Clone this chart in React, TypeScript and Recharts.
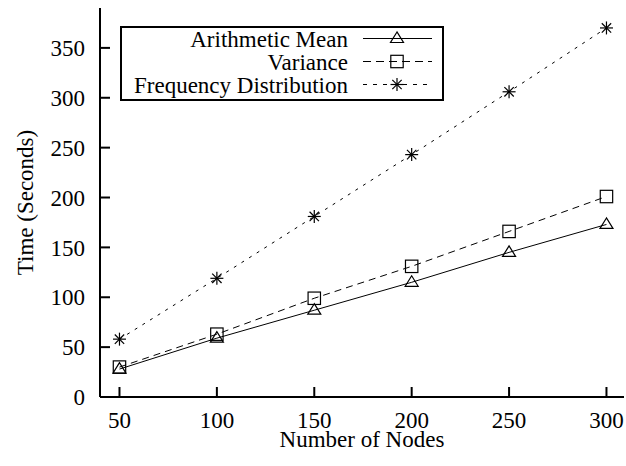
import React from 'react';
import { LineChart, Line, XAxis, YAxis, Legend, Label } from 'recharts';

const FONT = '"Liberation Serif", "Times New Roman", serif';

// Data
const nodes = [50, 100, 150, 200, 250, 300];
const arithmeticMean = [28, 59, 87, 115, 145, 173];
const varianceVals = [30, 63, 99, 131, 166, 201];
const frequencyDistribution = [58, 119, 181, 243, 306, 370];

const xTicks = [50, 100, 150, 200, 250, 300];
const yTicks = [0, 50, 100, 150, 200, 250, 300, 350];

const seriesOrder = ['mean', 'variance', 'freq'];

const data = nodes.map((n, i) => ({
  nodes: n,
  mean: arithmeticMean[i],
  variance: varianceVals[i],
  freq: frequencyDistribution[i],
}));

type Kind = 'triangle' | 'square' | 'star';

const SERIES_STYLE: Record<string, { dash?: string; legendDash?: string; marker: Kind }> = {
  mean: { marker: 'triangle' },
  variance: { dash: '7 5', legendDash: '8 5', marker: 'square' },
  freq: { dash: '3 6', legendDash: '4 6', marker: 'star' },
};

function Marker({ kind, cx, cy }: { kind: Kind; cx: number; cy: number }) {
  if (cx == null || cy == null) return null;
  if (kind === 'triangle') {
    return (
      <polygon
        points={`${cx},${cy - 6.5} ${cx - 6.5},${cy + 4} ${cx + 6.5},${cy + 4}`}
        fill="none"
        stroke="#000"
        strokeWidth={1.2}
      />
    );
  }
  if (kind === 'square') {
    return (
      <rect x={cx - 6.2} y={cy - 6.2} width={12.4} height={12.4} fill="none" stroke="#000" strokeWidth={1.2} />
    );
  }
  const r = 6.5;
  const d = r * 0.72;
  return (
    <g stroke="#000" strokeWidth={1.2}>
      <line x1={cx - r} y1={cy} x2={cx + r} y2={cy} />
      <line x1={cx} y1={cy - r} x2={cx} y2={cy + r} />
      <line x1={cx - d} y1={cy - d} x2={cx + d} y2={cy + d} />
      <line x1={cx - d} y1={cy + d} x2={cx + d} y2={cy - d} />
    </g>
  );
}

const makeDot = (kind: Kind) => (props: any) => (
  <Marker key={`${kind}-${props.index}`} kind={kind} cx={props.cx} cy={props.cy} />
);

const renderLegend = (props: any) => {
  const payload = [...(props.payload || [])].sort(
    (a: any, b: any) => seriesOrder.indexOf(a.dataKey) - seriesOrder.indexOf(b.dataKey)
  );
  return (
    <div
      style={{
        width: 324,
        height: 75,
        border: '2px solid #000',
        boxSizing: 'border-box',
        background: '#fff',
        position: 'relative',
      }}
    >
      <svg width={320} height={71} style={{ position: 'absolute', left: 0, top: 0 }}>
        {payload.map((p: any, i: number) => {
          const st = SERIES_STYLE[p.dataKey as string];
          const y = 10.5 + i * 23;
          return (
            <g key={i}>
              <text x={226} y={y + 8} textAnchor="end" fontFamily={FONT} fontSize={23} fill="#000">
                {p.value}
              </text>
              <line x1={241} y1={y} x2={310} y2={y} stroke="#000" strokeWidth={1} strokeDasharray={st?.legendDash} />
              {st && <Marker kind={st.marker} cx={275} cy={y} />}
            </g>
          );
        })}
      </svg>
    </div>
  );
};

const YLabel = (props: any) => {
  const vb = props.viewBox || { x: 0, y: 0, width: 0, height: 0 };
  const x = vb.x + 33;
  const y = vb.y + vb.height / 2;
  return (
    <text
      x={x}
      y={y}
      transform={`rotate(-90 ${x} ${y})`}
      textAnchor="middle"
      fontFamily={FONT}
      fontSize={23}
      fill="#000"
    >
      Time (Seconds)
    </text>
  );
};

const tickStyle = { fontSize: 23, fontFamily: FONT, fill: '#000' };
const axisLine = { stroke: '#000', strokeWidth: 2 };
const tickLine = { stroke: '#000', strokeWidth: 2 };

export default function App() {
  return (
    <div style={{ position: 'absolute', left: 0, top: 0, width: 626, height: 466, background: '#fff' }}>
      <LineChart width={626} height={466} data={data} margin={{ top: 8, right: 2, bottom: 0, left: 0 }}>
        <XAxis
          dataKey="nodes"
          type="number"
          domain={[40, 309]}
          ticks={xTicks}
          interval={0}
          height={69}
          tickSize={-10}
          tickMargin={25}
          tick={tickStyle}
          axisLine={axisLine}
          tickLine={tickLine}
          allowDataOverflow
        >
          <Label value="Number of Nodes" position="insideBottom" offset={19} fontFamily={FONT} fontSize={23} fill="#000" />
        </XAxis>
        <XAxis
          xAxisId="top"
          orientation="top"
          dataKey="nodes"
          type="number"
          domain={[40, 309]}
          ticks={xTicks}
          interval={0}
          height={0}
          tickSize={-10}
          tick={false}
          axisLine={axisLine}
          tickLine={tickLine}
          allowDataOverflow
        />
        <YAxis
          type="number"
          domain={[0, 390]}
          ticks={yTicks}
          interval={0}
          width={100}
          tickSize={-10}
          tickMargin={25}
          tick={tickStyle}
          axisLine={axisLine}
          tickLine={tickLine}
          allowDataOverflow
        >
          <Label content={YLabel} />
        </YAxis>
        <YAxis
          yAxisId="right"
          orientation="right"
          type="number"
          domain={[0, 390]}
          ticks={yTicks}
          interval={0}
          width={0}
          tickSize={-10}
          tick={false}
          axisLine={axisLine}
          tickLine={tickLine}
          allowDataOverflow
        />
        <Legend
          layout="vertical"
          align="center"
          verticalAlign="middle"
          width={324}
          height={75}
          wrapperStyle={{ left: 120, top: 26, width: 324, height: 75 }}
          content={renderLegend}
        />
        <Line
          dataKey="mean"
          name="Arithmetic Mean"
          stroke="#000"
          strokeWidth={1}
          dot={makeDot('triangle')}
          activeDot={false}
          isAnimationActive={false}
        />
        <Line
          dataKey="variance"
          name="Variance"
          stroke="#000"
          strokeWidth={1}
          strokeDasharray={SERIES_STYLE.variance.dash}
          dot={makeDot('square')}
          activeDot={false}
          isAnimationActive={false}
        />
        <Line
          dataKey="freq"
          name="Frequency Distribution"
          stroke="#000"
          strokeWidth={1}
          strokeDasharray={SERIES_STYLE.freq.dash}
          dot={makeDot('star')}
          activeDot={false}
          isAnimationActive={false}
        />
      </LineChart>
    </div>
  );
}
